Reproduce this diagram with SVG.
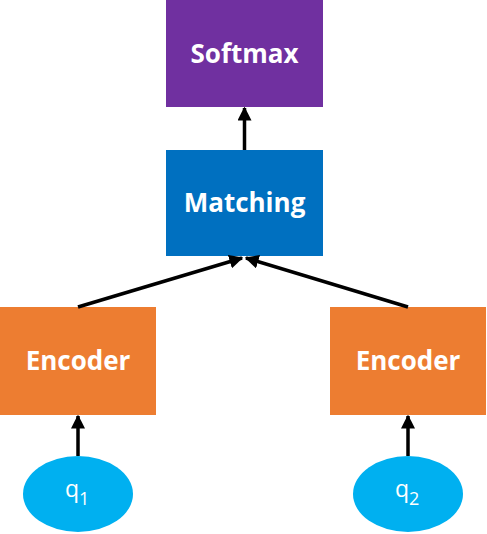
<svg xmlns="http://www.w3.org/2000/svg" width="487" height="534" viewBox="0 0 487 534">
<defs>
<marker id="ah" viewBox="0 0 10 10" refX="9" refY="5" markerWidth="4" markerHeight="4" markerUnits="strokeWidth" orient="auto">
<path d="M0,0 L10,5 L0,10 z" fill="#000"/>
</marker>
<style>
.lbl{font-family:"Open Sans","Liberation Sans",sans-serif;font-weight:bold;font-size:26px;fill:#fff;text-anchor:middle}
.q{font-family:"Open Sans","Liberation Sans",sans-serif;font-size:23px;fill:#fff}
.c{stroke:#000;stroke-width:3.5;fill:none;marker-end:url(#ah)}
</style>
</defs>
<rect width="487" height="534" fill="#fff"/>
<g id="softmax">
<rect x="166" y="0" width="157" height="107" fill="#7030A0"/>
<text class="lbl" x="244.5" y="63">Softmax</text>
</g>
<g id="matching">
<rect x="166" y="150" width="157" height="106" fill="#0070C0"/>
<text class="lbl" x="244.5" y="212">Matching</text>
</g>
<g id="encoder1">
<rect x="0" y="307" width="156" height="108" fill="#ED7D31"/>
<text class="lbl" x="78" y="370">Encoder</text>
</g>
<g id="encoder2">
<rect x="330" y="307" width="156" height="108" fill="#ED7D31"/>
<text class="lbl" x="408" y="370">Encoder</text>
</g>
<g id="q1">
<ellipse cx="78" cy="494" rx="55" ry="38" fill="#00B0F0"/>
<text class="q" x="65" y="497">q<tspan font-size="18" dy="8">1</tspan></text>
</g>
<g id="q2">
<ellipse cx="408" cy="494" rx="55" ry="38" fill="#00B0F0"/>
<text class="q" x="395" y="497">q<tspan font-size="18" dy="8">2</tspan></text>
</g>
<g id="connectors">
<line class="c" x1="244.5" y1="150" x2="244.5" y2="108"/>
<line class="c" x1="78" y1="307" x2="242" y2="258"/>
<line class="c" x1="408" y1="307" x2="246" y2="258"/>
<line class="c" x1="78" y1="456" x2="78" y2="416"/>
<line class="c" x1="408" y1="456" x2="408" y2="416"/>
</g>
</svg>
